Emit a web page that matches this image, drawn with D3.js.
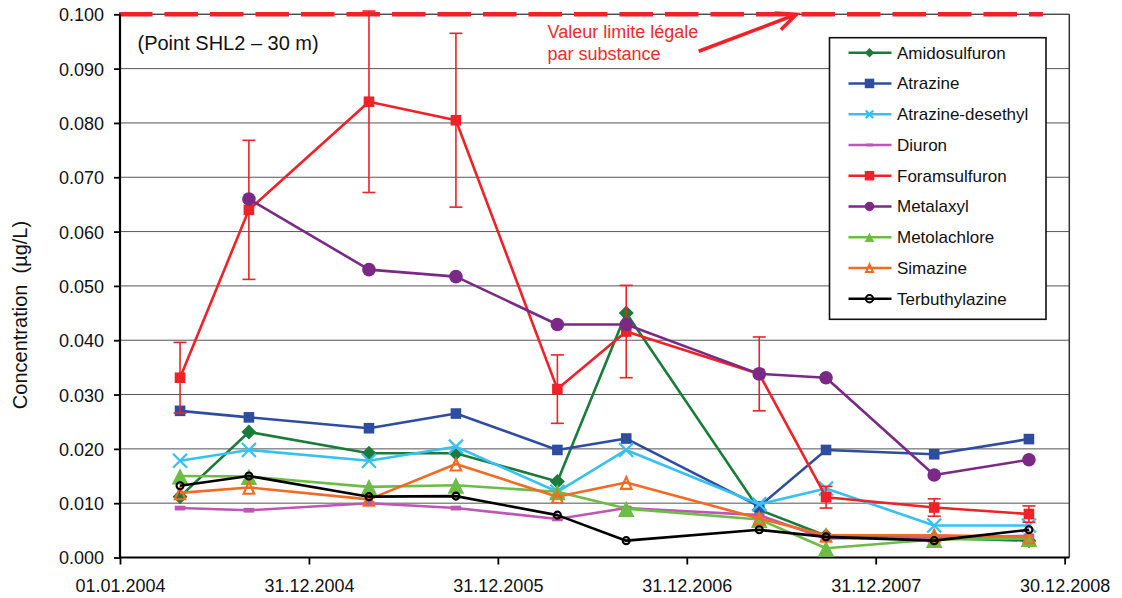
<!DOCTYPE html>
<html><head><meta charset="utf-8">
<script src="https://cdn.jsdelivr.net/npm/d3@7"></script>
<style>body{margin:0;background:#fff;} svg{display:block;font-family:"Liberation Sans",Arial,Helvetica,sans-serif;}</style>
</head><body><svg id="c" width="1122" height="598"></svg>
<script>
// ---------- data ----------
const sampleDates = ["2004-04-26","2004-09-06","2005-04-26","2005-10-11","2006-04-25","2006-09-05","2007-05-20","2007-09-26","2008-04-22","2008-10-22"];
const seriesNames = ["Amidosulfuron","Atrazine","Atrazine-desethyl","Diuron","Foramsulfuron","Metalaxyl","Metolachlore","Simazine","Terbuthylazine"];
const amidosulfuron    = [0.0112,0.0231,0.0192,0.0192,0.0140,0.0450,0.0088,0.0040,0.0036,0.0031];
const atrazine         = [0.0270,0.0258,0.0238,0.0265,0.0198,0.0219,0.0094,0.0198,0.0190,0.0218];
const atrazineDesethyl = [0.0178,0.0198,0.0178,0.0204,0.0121,0.0198,0.0098,0.0127,0.0059,0.0059];
const diuron           = [0.0091,0.0087,0.0100,0.0091,0.0071,0.0091,0.0078,0.0035,0.0037,0.0040];
const foramsulfuron    = [0.0331,0.0640,0.0839,0.0805,0.0310,0.0416,0.0338,0.0111,0.0092,0.0080];
const foramsulfuronErr = [0.0065,0.0128,0.0167,0.0160,0.0063,0.0085,0.0068,0.0020,0.0016,0.0015];
const metalaxyl        = [null,0.0660,0.0530,0.0517,0.0429,0.0429,0.0338,0.0331,0.0152,0.0180];
const metolachlore     = [0.0150,0.0149,0.0130,0.0133,0.0121,0.0090,0.0070,0.0017,0.0033,0.0035];
const simazine         = [0.0119,0.0129,0.0107,0.0172,0.0112,0.0138,0.0072,0.0041,0.0041,0.0038];
const terbuthylazine   = [0.0132,0.0150,0.0112,0.0113,0.0078,0.0031,0.0051,0.0038,0.0031,0.0051];
const yTicks = [0,0.01,0.02,0.03,0.04,0.05,0.06,0.07,0.08,0.09,0.1];
const xTickDates  = ["2004-01-01","2004-12-31","2005-12-31","2006-12-31","2007-12-31","2008-12-30"];
const xTickLabels = ["01.01.2004","31.12.2004","31.12.2005","31.12.2006","31.12.2007","30.12.2008"];
const xDomain = ["2004-01-01","2009-01-08"];
const limitValue = 0.1;
const limitDates = ["2003-12-30","2008-11-18"];
const arrowTail = ["2007-01-23",0.0932];
const arrowTip  = ["2007-07-31",0.1];
const annotLines = ["Valeur limite légale","par substance"];
const annotPos = ["2006-04-06",0.0956];
const chartTitle = "(Point SHL2 – 30 m)";
const yTitle = "Concentration  (µg/L)";

// ---------- setup ----------
const P = d3.utcParse("%Y-%m-%d");
const svg = d3.select("#c");
const L = 120, R = 1069.3, T = 14.3, B = 557.5;
const x = d3.scaleUtc().domain(xDomain.map(P)).range([L, R]);
const y = d3.scaleLinear().domain([0, 0.1]).range([B, T]);
const dates = sampleDates.map(P);

const styles = [
  {c:"#1a7c3a", m:"diamond", fill:true, size:15},
  {c:"#2e4da0", m:"square", fill:true, size:10.6},
  {c:"#37c1f0", m:"cross", size:16},
  {c:"#c056b4", m:"dash", fill:true, size:10.6},
  {c:"#ee2228", m:"square", fill:true, size:10.6},
  {c:"#7a2a84", m:"circle", fill:true, size:13.6},
  {c:"#6cbc46", m:"triangle", fill:true, size:16.6},
  {c:"#f36a24", m:"triangle", fill:false, size:13.5},
  {c:"#000000", m:"circle", fill:false, size:9.2}
];
const seriesVals = [amidosulfuron,atrazine,atrazineDesethyl,diuron,foramsulfuron,metalaxyl,metolachlore,simazine,terbuthylazine];

// gridlines
svg.append("g").selectAll("line").data(yTicks.slice(1)).join("line")
  .attr("x1", L).attr("x2", R).attr("y1", d=>y(d)).attr("y2", d=>y(d))
  .attr("stroke", "#555").attr("stroke-width", 1);

// right border
svg.append("line").attr("x1",R).attr("x2",R).attr("y1",T).attr("y2",B)
  .attr("stroke","#333").attr("stroke-width",1.5);

// limit dashed line
svg.append("line")
  .attr("x1", x(P(limitDates[0]))).attr("x2", x(P(limitDates[1])))
  .attr("y1", y(limitValue)).attr("y2", y(limitValue))
  .attr("stroke", "#ee2228").attr("stroke-width", 4.5).attr("stroke-dasharray","33.5,12");

// axes
const yAxis = d3.axisLeft(y).tickValues(yTicks).tickFormat(d3.format(".3f")).tickSize(6).tickPadding(10);
const gy = svg.append("g").attr("transform",`translate(${L},0)`).call(yAxis);
const xAxis = d3.axisBottom(x).tickValues(xTickDates.map(P)).tickFormat((d,i)=>xTickLabels[i]).tickSize(7).tickPadding(15);
const gx = svg.append("g").attr("transform",`translate(0,${B})`).call(xAxis);
[gx, gy].forEach(g=>{
  g.select(".domain").attr("stroke","#000").attr("stroke-width",2.2);
  g.selectAll(".tick line").attr("stroke","#000").attr("stroke-width",1.8);
  g.selectAll(".tick text").attr("fill","#111").style("font-size","18px").style("font-family",'"Liberation Sans",Arial,sans-serif');
});
gx.select(".domain").attr("d", `M${L},0H${R}`);
gy.select(".domain").attr("d", `M0,${B}V${T}`);
gy.selectAll(".tick text").attr("dy","0.36em");
// top border
svg.append("line").attr("x1",L).attr("x2",R).attr("y1",T).attr("y2",T).attr("stroke","#222").attr("stroke-width",1.2).lower();

// marker drawing (size = full width in px)
function marker(g, st, cx, cy, size) {
  const c = st.c, h = size/2;
  if (st.m==="diamond") {
    g.append("path").attr("d",`M${cx},${cy-h}L${cx+h},${cy}L${cx},${cy+h}L${cx-h},${cy}Z`).attr("fill",c);
  } else if (st.m==="square") {
    g.append("rect").attr("x",cx-h).attr("y",cy-h).attr("width",2*h).attr("height",2*h).attr("fill",c);
  } else if (st.m==="cross") {
    const k = h-1;
    g.append("path").attr("d",`M${cx-k},${cy-k}L${cx+k},${cy+k}M${cx-k},${cy+k}L${cx+k},${cy-k}`).attr("stroke",c).attr("stroke-width",2.3).attr("fill","none");
  } else if (st.m==="dash") {
    g.append("rect").attr("x",cx-h).attr("y",cy-h*0.45).attr("width",2*h).attr("height",h*0.9).attr("fill",c);
  } else if (st.m==="circle") {
    if (st.fill) g.append("circle").attr("cx",cx).attr("cy",cy).attr("r",h).attr("fill",c);
    else g.append("circle").attr("cx",cx).attr("cy",cy).attr("r",h-1.1).attr("fill","none").attr("stroke",c).attr("stroke-width",2.1);
  } else if (st.m==="triangle") {
    if (st.fill) g.append("path").attr("d",`M${cx},${cy-h*0.95}L${cx+h},${cy+h*1.02}L${cx-h},${cy+h*1.02}Z`).attr("fill",c);
    else {
      const k = h-1.2;
      g.append("path").attr("d",`M${cx},${cy-k*1.0}L${cx+k*0.95},${cy+k*1.15}L${cx-k*0.95},${cy+k*1.15}Z`).attr("fill","none").attr("stroke",c).attr("stroke-width",2.1);
    }
  }
}

// series
const line = d3.line().defined(d=>d.v!=null).x(d=>x(d.d)).y(d=>y(d.v));
seriesVals.forEach((vals, si) => {
  const st = styles[si];
  const g = svg.append("g");
  const pts = vals.map((v,i)=>({d:dates[i], v}));
  g.append("path").datum(pts).attr("d", line).attr("fill","none").attr("stroke",st.c)
    .attr("stroke-width", 2.6).attr("stroke-linejoin","round");
  if (si === 4) {
    const eg = g.append("g").attr("stroke", st.c).attr("stroke-width", 1.6);
    pts.forEach((p,i)=>{
      const cx = x(p.d), y1 = y(p.v + foramsulfuronErr[i]), y2 = y(p.v - foramsulfuronErr[i]);
      eg.append("line").attr("x1",cx).attr("x2",cx).attr("y1",y1).attr("y2",y2);
      eg.append("line").attr("x1",cx-6.5).attr("x2",cx+6.5).attr("y1",y1).attr("y2",y1);
      eg.append("line").attr("x1",cx-6.5).attr("x2",cx+6.5).attr("y1",y2).attr("y2",y2);
    });
  }
  pts.filter(p=>p.v!=null).forEach(p=>marker(g, st, x(p.d), y(p.v), st.size));
});

// title
svg.append("text").attr("x", L+17.5).attr("y", T+36).attr("font-size", 20).attr("fill","#111").text(chartTitle);

// y title
svg.append("text").attr("transform","translate(26.5,315) rotate(-90)").attr("text-anchor","middle")
  .attr("font-size", 20).attr("fill","#111").attr("xml:space","preserve").style("white-space","pre").text(yTitle);

// annotation
const ag = svg.append("g").attr("fill","#ef2b2b");
annotLines.forEach((t,i)=>{
  ag.append("text").attr("x", x(P(annotPos[0]))).attr("y", y(annotPos[1]) + i*22).attr("font-size",18).text(t);
});
const tx = x(P(arrowTail[0])), ty = y(arrowTail[1]), hx = x(P(arrowTip[0])), hy = y(arrowTip[1]);
const ang = Math.atan2(hy-ty, hx-tx);
const al = 22, spread = 0.42;
svg.append("path")
  .attr("d", `M${tx},${ty}L${hx},${hy}M${hx-al*Math.cos(ang-spread)},${hy-al*Math.sin(ang-spread)}L${hx},${hy}L${hx-al*Math.cos(ang+spread)},${hy-al*Math.sin(ang+spread)}`)
  .attr("stroke","#ee2228").attr("stroke-width",3.6).attr("fill","none").attr("stroke-linejoin","miter");

// legend
const lg = svg.append("g");
lg.append("rect").attr("x",829.5).attr("y",37.7).attr("width",216.5).attr("height",281.6)
  .attr("fill","#fff").attr("stroke","#111").attr("stroke-width",1.6);
seriesNames.forEach((n,i)=>{
  const cy = 52.7 + i*30.75;
  const st = styles[i];
  lg.append("line").attr("x1",848.5).attr("x2",891.5).attr("y1",cy).attr("y2",cy).attr("stroke",st.c).attr("stroke-width",2.6);
  marker(lg, st, 869.5, cy, st.m==="dash" ? 6.5 : 9.5);
  lg.append("text").attr("x",897).attr("y",cy+6).attr("font-size",17).attr("fill","#111").text(n);
});
</script></body></html>
